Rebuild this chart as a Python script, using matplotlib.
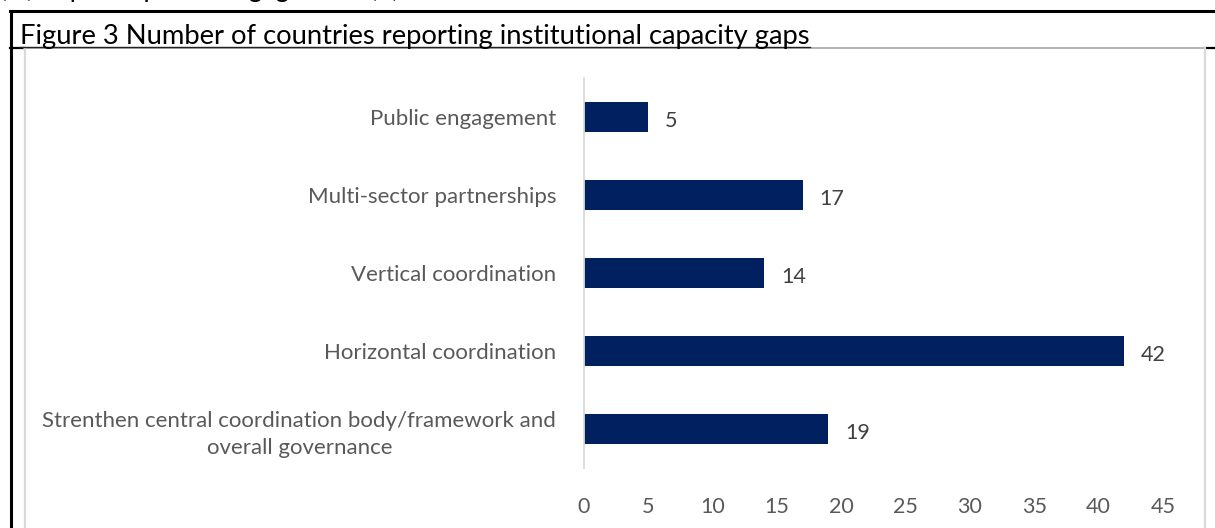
import matplotlib
matplotlib.use('Agg')
import matplotlib.pyplot as plt
from matplotlib.lines import Line2D
import numpy as np

plt.rcParams['font.family'] = ['Lato', 'DejaVu Sans']

categories = ['Strenthen central coordination body/framework and\noverall governance',
              'Horizontal coordination',
              'Vertical coordination',
              'Multi-sector partnerships',
              'Public engagement']
countries = [19, 42, 14, 17, 5]
xticks = [0, 5, 10, 15, 20, 25, 30, 35, 40, 45]

W, H = 1215, 528
fig = plt.figure(figsize=(W / 100, H / 100), dpi=100)

def fx(px):
    return px / W

def fy(py):
    return 1 - py / H

def hline(y, x0, x1, color, lw):
    fig.add_artist(Line2D([fx(x0), fx(x1)], [fy(y), fy(y)], color=color, lw=lw))

def vline(x, y0, y1, color, lw):
    fig.add_artist(Line2D([fx(x), fx(x)], [fy(y0), fy(y1)], color=color, lw=lw))

# heading line running off the top of the page
fig.text(fx(0), fy(-3), '(vi) Improve public engagement (5)', fontsize=19,
         color='black', ha='left', va='baseline')

# table cell borders
hline(11, 10, W, 'black', 2.2)
vline(11, 11, H, 'black', 2.2)
hline(48, 10, 24, 'black', 1.6)
hline(48, 1205, W, 'black', 1.6)

# chart area border
hline(48, 24, 1205, '#a6a6a6', 1.2)
vline(25, 48, H, '#d9d9d9', 1.6)
vline(1205, 48, H, '#d9d9d9', 1.6)

# figure caption, underlined
fig.text(fx(20), fy(44), 'Figure 3 Number of countries reporting institutional capacity gaps',
         fontsize=19.7, color='black', ha='left', va='baseline')
hline(47, 20, 810, '#222222', 1.0)

ax = fig.add_axes([fx(584), fy(468), fx(1163) - fx(584), fy(78) - fy(468)])
y = np.arange(len(categories))
bars = ax.barh(y, countries, height=0.385, color='#002060')
for rect, v in zip(bars, countries):
    ax.annotate(str(v), (rect.get_width(), rect.get_y() + rect.get_height() / 2),
                xytext=(12, -3), textcoords='offset points', va='center', ha='left',
                fontsize=15.5, color='#404040')

ax.set_xlim(0, 45)
ax.set_ylim(-0.5, len(categories) - 0.5)
ax.set_xticks(xticks)
ax.set_yticks(y)
ax.set_yticklabels(categories, multialignment='center', linespacing=1.45)
for s in ['top', 'right', 'bottom']:
    ax.spines[s].set_visible(False)
ax.spines['left'].set_color('#d9d9d9')
ax.spines['left'].set_linewidth(1.3)
ax.tick_params(axis='x', length=0, pad=21, labelsize=15.5, labelcolor='#595959')
ax.tick_params(axis='y', length=0, pad=20, labelsize=16, labelcolor='#595959')

fig.savefig('out.png', dpi=100)
